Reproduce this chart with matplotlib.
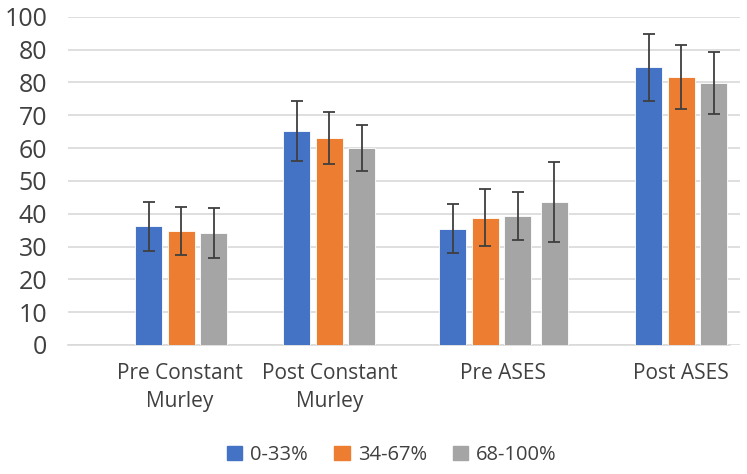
import numpy as np
import matplotlib
matplotlib.use("Agg")
from matplotlib import pyplot as plt
from matplotlib.patches import Patch

plt.rcParams['font.family'] = ['Open Sans', 'DejaVu Sans']

categories = ["Pre Constant\nMurley", "Post Constant\nMurley", "Pre ASES", "Post ASES"]
series_names = ["0-33%", "34-67%", "68-100%"]
low_vals = [36.1, 65.2, 35.4, 84.6]
low_err = [7.5, 9.2, 7.5, 10.2]
mid_vals = [34.8, 63.0, 38.8, 81.6]
mid_err = [7.3, 7.9, 8.6, 9.8]
high_vals = [34.0, 59.9, 39.3, 79.8]
high_err = [7.6, 7.0, 7.2, 9.4]
# extra gray bar that only appears in the Pre ASES group
extra_val = 43.6
extra_err = 12.2
ytick_vals = [0, 10, 20, 30, 40, 50, 60, 70, 80, 90, 100]
ytick_labels = ["0", "10", "20", "30", "40", "50", "60", "70", "80", "80", "100"]

colors = ["#4472C4", "#ED7D31", "#A5A5A5"]
fig = plt.figure(figsize=(7.47, 4.74), dpi=100)
ax = fig.add_axes([68 / 747, 1 - 345 / 474, 672 / 747, (345 - 16.7) / 474])

# group starts in reference pixels, the groups are not evenly spaced
starts = np.array([135, 283, 439, 635]) - 68
width = 27
pitch = 32.5
all_vals = [low_vals, mid_vals, high_vals]
all_errs = [low_err, mid_err, high_err]
err_kw = dict(ecolor="#3f3f3f", elinewidth=1.3, capsize=4, capthick=1.3)
for i, (vals, errs) in enumerate(zip(all_vals, all_errs)):
    ax.bar(starts + i * pitch, vals, width, yerr=errs, color=colors[i], align="edge",
           edgecolor="white", linewidth=0.6, error_kw=err_kw, zorder=3)
ax.bar(starts[2] + 3 * pitch + 4, extra_val, width, yerr=extra_err, color=colors[2],
       align="edge", edgecolor="white", linewidth=0.6, error_kw=err_kw, zorder=3)

ax.set_xlim(0, 672)
ax.set_ylim(0, 100)
ax.set_yticks(ytick_vals)
ax.set_yticklabels(ytick_labels, fontsize=18)
centers = [112, 262, 435, 613]
ax.set_xticks(centers)
ax.set_xticklabels(categories, fontsize=15, linespacing=1.45)
ax.tick_params(axis="both", length=0, colors="#404040")
ax.tick_params(axis="y", pad=15)
ax.tick_params(axis="x", pad=13)
ax.grid(axis="y", color="#d9d9d9", linewidth=1.2, zorder=0)
for s in ["top", "right", "left"]:
    ax.spines[s].set_visible(False)
ax.spines["bottom"].set_color("#d9d9d9")
ax.spines["bottom"].set_linewidth(1.2)
ax.spines["bottom"].set_bounds(0, 662)

handles = [Patch(color=c, label=n) for c, n in zip(colors, series_names)]
fig.legend(handles=handles, loc="center", bbox_to_anchor=(392 / 747, 1 - 455 / 474), ncol=3,
           frameon=False, fontsize=14.5, handlelength=0.75, handleheight=0.75,
           handletextpad=0.4, columnspacing=1.3, labelcolor="#404040")

fig.savefig("out.png", dpi=100)
